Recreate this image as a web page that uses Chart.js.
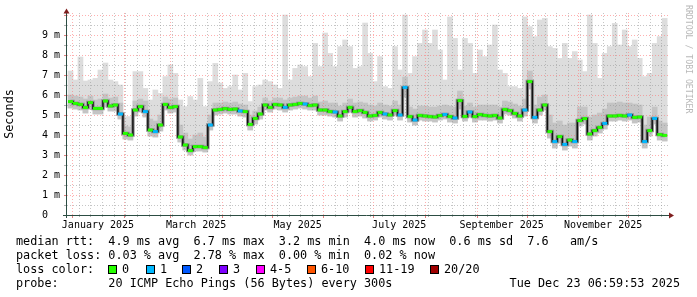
<!DOCTYPE html>
<html>
<head>
<meta charset="utf-8">
<script src="https://cdn.jsdelivr.net/npm/chart.js@4.4.1/dist/chart.umd.min.js"></script>
<style>
html, body { margin: 0; padding: 0; background: #fff; }
#wrap { position: relative; width: 697px; height: 297px; overflow: hidden; background: #fff; }
canvas { position: absolute; left: 0; top: 0; }
.ln { position: absolute; left: 16px; font-family: "DejaVu Sans Mono", monospace; font-size: 11.8px; line-height: 14px; white-space: pre; color: #000; }
.box { position: absolute; top: 265px; width: 7px; height: 7px; border: 1px solid #000; }
</style>
</head>
<body>
<div id="wrap">
  <canvas id="c" width="697" height="297"></canvas>
  <div class="ln" style="top:234px">median rtt:  4.9 ms avg  6.7 ms max  3.2 ms min  4.0 ms now  0.6 ms sd  7.6   am/s</div>
  <div class="ln" style="top:248px">packet loss: 0.03 % avg  2.78 % max  0.00 % min  0.02 % now</div>
  <div class="ln" style="top:262px" id="lossLine">loss color:</div>
  <div class="ln" style="top:276px">probe:       20 ICMP Echo Pings (56 Bytes) every 300s</div>
  <div class="ln" style="top:276px;left:auto;right:17px">Tue Dec 23 06:59:53 2025</div>
</div>
<script>
// one sample every 3 days, x = days since 1 Jan 2025
const firstDay = -1, stepDays = 3;

// median rtt (ms)
const med = [
  5.67, 5.58, 5.53, 5.37, 5.62, 5.33, 5.33, 5.70, 5.45, 5.50,
  5.05, 4.08, 4.00, 5.25, 5.42, 5.17, 4.25, 4.17, 4.50, 5.53,
  5.38, 5.42, 3.90, 3.50, 3.22, 3.42, 3.42, 3.37, 4.50, 5.25,
  5.28, 5.32, 5.28, 5.30, 5.20, 5.17, 4.53, 4.83, 5.05, 5.50,
  5.38, 5.53, 5.50, 5.38, 5.50, 5.53, 5.58, 5.55, 5.47, 5.50,
  5.25, 5.25, 5.17, 5.15, 4.95, 5.17, 5.38, 5.17, 5.22, 5.13,
  4.95, 4.98, 5.13, 5.05, 5.00, 5.22, 5.00, 6.38, 4.92, 4.75,
  4.98, 4.95, 4.92, 4.90, 4.97, 5.03, 4.92, 4.85, 5.72, 4.93,
  5.15, 4.92, 5.02, 4.98, 4.95, 4.98, 4.85, 5.28, 5.22, 5.08,
  4.95, 5.25, 6.67, 4.88, 5.25, 5.50, 4.17, 3.67, 3.92, 3.53,
  3.75, 3.67, 4.72, 4.82, 4.05, 4.22, 4.38, 4.58, 4.95, 4.95,
  4.98, 4.95, 5.00, 4.88, 4.90, 3.67, 4.22, 4.83, 4.02, 3.98
];
// slowest ping (top of the light smoke)
const maxRtt = [
  7.20, 6.75, 7.90, 6.70, 6.75, 6.83, 7.25, 7.60, 6.75, 6.67,
  6.50, 4.92, 4.92, 7.17, 7.17, 6.33, 5.75, 6.25, 6.08, 6.92,
  7.50, 7.08, 5.75, 5.42, 5.92, 5.75, 6.83, 5.42, 6.67, 7.58,
  6.60, 6.33, 6.42, 7.00, 6.25, 7.08, 5.67, 6.42, 6.50, 6.75,
  6.67, 6.50, 6.33, 10.0, 6.75, 7.33, 7.50, 7.42, 6.92, 8.58,
  7.42, 9.10, 8.08, 7.42, 8.42, 8.75, 8.42, 7.33, 7.42, 9.60,
  8.08, 6.67, 7.92, 6.42, 6.33, 8.42, 7.25, 10.0, 7.08, 7.92,
  8.58, 9.25, 8.58, 9.25, 8.25, 6.75, 9.90, 8.83, 7.25, 8.83,
  8.58, 7.08, 8.25, 7.92, 8.50, 9.50, 7.25, 7.08, 6.42, 6.42,
  6.33, 9.90, 9.42, 8.92, 9.75, 9.83, 8.42, 8.33, 7.83, 8.58,
  7.83, 8.17, 7.75, 7.17, 10.0, 8.58, 6.83, 8.08, 8.42, 9.58,
  8.50, 9.25, 8.42, 8.75, 7.83, 6.92, 7.08, 8.58, 8.92, 9.83
];
// upper edge of the denser smoke
const hiRtt = [
  6.00, 5.95, 5.90, 5.80, 5.95, 5.75, 5.80, 6.05, 5.85, 5.90,
  5.60, 4.45, 4.40, 5.70, 5.80, 5.70, 4.80, 4.70, 5.00, 5.90,
  5.80, 5.85, 4.50, 4.10, 3.80, 4.00, 4.10, 3.90, 5.00, 5.60,
  5.60, 5.65, 5.60, 5.65, 5.55, 5.50, 5.00, 5.20, 5.40, 5.85,
  5.70, 5.85, 5.85, 5.75, 5.85, 5.90, 5.95, 5.95, 5.85, 5.95,
  5.65, 5.70, 5.60, 5.60, 5.45, 5.60, 5.80, 5.60, 5.65, 5.60,
  5.50, 5.45, 5.60, 5.50, 5.45, 5.70, 5.50, 6.90, 5.40, 5.30,
  5.45, 5.45, 5.40, 5.40, 5.45, 5.50, 5.45, 5.40, 6.20, 5.45,
  5.60, 5.40, 5.50, 5.50, 5.50, 5.50, 5.40, 5.70, 5.65, 5.55,
  5.45, 5.80, 7.20, 5.50, 5.90, 6.00, 5.00, 4.60, 4.70, 4.50,
  4.60, 4.60, 5.40, 5.40, 4.90, 5.00, 5.10, 5.30, 5.60, 5.60,
  5.65, 5.60, 5.60, 5.55, 5.50, 4.50, 4.90, 5.40, 4.70, 4.60
];
// fastest ping (bottom of the smoke)
const minRtt = [
  5.35, 5.30, 5.25, 5.10, 5.30, 5.05, 5.05, 5.40, 5.20, 5.20,
  4.80, 3.80, 3.75, 4.95, 5.15, 4.90, 3.95, 3.90, 4.20, 5.25,
  5.10, 5.15, 3.65, 3.25, 3.00, 3.20, 3.20, 3.15, 4.25, 5.00,
  5.05, 5.10, 5.05, 5.05, 4.95, 4.90, 4.25, 4.55, 4.80, 5.25,
  5.15, 5.30, 5.25, 5.15, 5.25, 5.30, 5.35, 5.30, 5.25, 5.25,
  5.00, 5.00, 4.95, 4.90, 4.70, 4.90, 5.15, 4.90, 4.95, 4.85,
  4.70, 4.75, 4.90, 4.80, 4.75, 5.00, 4.75, 5.90, 4.65, 4.50,
  4.75, 4.70, 4.70, 4.65, 4.75, 4.80, 4.65, 4.60, 5.30, 4.70,
  4.90, 4.65, 4.75, 4.75, 4.70, 4.75, 4.60, 5.05, 5.00, 4.85,
  4.70, 4.95, 6.30, 4.60, 5.00, 5.25, 3.85, 3.35, 3.60, 3.25,
  3.45, 3.35, 4.45, 4.55, 3.75, 3.95, 4.10, 4.30, 4.70, 4.70,
  4.75, 4.70, 4.75, 4.60, 4.65, 3.35, 3.95, 4.55, 3.75, 3.70
];
// samples with 1/20 packets lost
const lossOnePoints = [10, 15, 17, 28, 34, 43, 47, 53, 63, 66, 67, 69, 75, 77, 80, 91, 93, 97, 99, 101, 107, 112, 115, 117];

const monthStarts = [0, 31, 59, 90, 120, 151, 181, 212, 243, 273, 304, 334, 365];
const firstSunday = 4;
const xLabels = ['January 2025', 'March 2025', 'May 2025', 'July 2025', 'September 2025', 'November 2025'];
const xLabelMonths = [0, 2, 4, 6, 8, 10];
const yLabelMax = 9;

const lossNames = ['0', '1', '2', '3', '4-5', '6-10', '11-19', '20/20'];
const lossColors = ['#26ff00', '#00b8ff', '#0059ff', '#7e00ff', '#ff00ff', '#ff5500', '#ff0000', '#a00000'];
const lossBoxX = [108, 146, 182, 219, 256, 307, 365, 430];

// legend boxes
const wrap = document.getElementById('wrap');
lossNames.forEach((n, i) => {
  const b = document.createElement('div');
  b.className = 'box';
  b.style.left = lossBoxX[i] + 'px';
  b.style.background = lossColors[i];
  wrap.appendChild(b);
  const t = document.createElement('div');
  t.className = 'ln';
  t.style.top = '262px';
  t.style.left = (lossBoxX[i] + 14) + 'px';
  t.textContent = n;
  wrap.appendChild(t);
});

const days = med.map((_, i) => firstDay + stepDays * i);
const xLabelDays = xLabelMonths.map(m => (monthStarts[m] + monthStarts[m + 1]) / 2);
const pts = arr => arr.map((v, i) => ({ x: days[i], y: v }));
const span = (a, b) => a.map((v, i) => ({ x: days[i], y: [v, b[i]] }));
const markColors = med.map((_, i) => lossOnePoints.includes(i) ? lossColors[1] : lossColors[0]);

const MONO = '"DejaVu Sans Mono", monospace';
const GRID_MINOR = 'rgba(150,150,150,0.55)';
const GRID_MAJOR = 'rgba(255,110,110,0.55)';

const smokeGrid = {
  id: 'smokeGrid',
  afterDatasetDraw(chart, args) {
    if (args.index !== 1) return;
    const { ctx, chartArea: a, scales: { x, y } } = chart;
    ctx.save();
    ctx.lineWidth = 1;
    ctx.setLineDash([1, 2]);
    y.ticks.forEach(t => {
      if (t.value <= 0) return;
      const py = Math.round(y.getPixelForValue(t.value)) + 0.5;
      ctx.strokeStyle = Number.isInteger(t.value) ? GRID_MAJOR : GRID_MINOR;
      ctx.beginPath(); ctx.moveTo(a.left, py); ctx.lineTo(a.right, py); ctx.stroke();
    });
    for (let d = firstSunday; d < x.max; d += 7) {
      if (monthStarts.includes(d)) continue;
      const px = Math.round(x.getPixelForValue(d)) + 0.5;
      ctx.strokeStyle = GRID_MINOR;
      ctx.beginPath(); ctx.moveTo(px, a.bottom); ctx.lineTo(px, a.top); ctx.stroke();
    }
    monthStarts.forEach(d => {
      if (d < x.min || d > x.max) return;
      const px = Math.round(x.getPixelForValue(d)) + 0.5;
      ctx.strokeStyle = GRID_MAJOR;
      ctx.beginPath(); ctx.moveTo(px, a.bottom); ctx.lineTo(px, a.top); ctx.stroke();
    });
    ctx.restore();
  },
  afterDraw(chart) {
    const { ctx, chartArea: a, scales: { x, y } } = chart;
    ctx.save();
    ctx.lineWidth = 1;
    // small ticks outside the axes
    y.ticks.forEach(t => {
      const py = Math.round(y.getPixelForValue(t.value)) + 0.5;
      ctx.strokeStyle = Number.isInteger(t.value) ? '#e08080' : '#b0b0b0';
      ctx.beginPath(); ctx.moveTo(a.left - 3, py); ctx.lineTo(a.left, py); ctx.stroke();
    });
    for (let d = firstSunday; d < x.max; d += 7) {
      const px = Math.round(x.getPixelForValue(d)) + 0.5;
      ctx.strokeStyle = '#b0b0b0';
      ctx.beginPath(); ctx.moveTo(px, a.bottom); ctx.lineTo(px, a.bottom + 2); ctx.stroke();
    }
    monthStarts.forEach(d => {
      if (d < x.min || d > x.max) return;
      const px = Math.round(x.getPixelForValue(d)) + 0.5;
      ctx.strokeStyle = '#e08080';
      ctx.beginPath(); ctx.moveTo(px, a.bottom); ctx.lineTo(px, a.bottom + 3); ctx.stroke();
    });
    // axes
    ctx.strokeStyle = '#2c4d43';
    ctx.beginPath(); ctx.moveTo(a.left - 4, a.bottom + 0.5); ctx.lineTo(a.right + 2, a.bottom + 0.5); ctx.stroke();
    ctx.beginPath(); ctx.moveTo(a.left - 0.5, a.bottom + 3); ctx.lineTo(a.left - 0.5, a.top - 2); ctx.stroke();
    // arrows
    ctx.fillStyle = '#7f1f1f';
    ctx.beginPath();
    ctx.moveTo(a.left - 3.5, a.top + 0.5); ctx.lineTo(a.left + 2.5, a.top + 0.5); ctx.lineTo(a.left - 0.5, a.top - 4.5);
    ctx.closePath(); ctx.fill();
    ctx.beginPath();
    ctx.moveTo(a.right + 1, a.bottom - 2.5); ctx.lineTo(a.right + 1, a.bottom + 3.5); ctx.lineTo(a.right + 6, a.bottom + 0.5);
    ctx.closePath(); ctx.fill();
    // watermark
    ctx.translate(688.5, 5);
    ctx.rotate(Math.PI / 2);
    ctx.fillStyle = '#b8b8b8';
    ctx.font = '8.2px ' + MONO;
    ctx.textBaseline = 'middle';
    ctx.textAlign = 'left';
    ctx.fillText('RRDTOOL / TOBI OETIKER', 0, 0);
    ctx.restore();
  }
};

const barOpts = { type: 'bar', grouped: false, barPercentage: 1, categoryPercentage: 1, borderWidth: 0 };

new Chart(document.getElementById('c'), {
  type: 'bar',
  data: {
    datasets: [
      { ...barOpts, data: span(minRtt, maxRtt), backgroundColor: '#dddddd', order: 5 },
      { ...barOpts, data: span(minRtt, hiRtt), backgroundColor: '#c4c4c4', order: 4 },
      { type: 'line', data: pts(med), borderColor: '#909090', borderWidth: 3.5, stepped: 'middle', pointRadius: 0, order: 3 },
      { type: 'line', data: pts(med), borderColor: '#111111', borderWidth: 1.5, stepped: 'middle', pointRadius: 0, order: 2 },
      { type: 'line', data: pts(med), showLine: false, pointStyle: 'line', pointRadius: 2.5,
        pointBorderWidth: 3, pointBorderColor: markColors, pointBackgroundColor: markColors, order: 1 }
    ]
  },
  options: {
    responsive: false,
    animation: false,
    devicePixelRatio: 1,
    layout: { padding: { top: 13, right: 29, bottom: 62, left: 0 } },
    plugins: { legend: { display: false }, tooltip: { enabled: false } },
    scales: {
      x: {
        type: 'linear', min: -3.1, max: 358, offset: false,
        grid: { display: false, drawTicks: false }, border: { display: false },
        afterBuildTicks: s => { s.ticks = xLabelDays.map(v => ({ value: v })); },
        afterFit: s => { s.height = 20; },
        ticks: { autoSkip: false, maxRotation: 0, padding: 4, color: '#000',
          font: { family: MONO, size: 10 }, callback: (v, i) => xLabels[i] }
      },
      y: {
        min: 0, max: 10.1,
        grid: { display: false, drawTicks: false }, border: { display: false },
        afterFit: s => { s.width = 67; },
        ticks: { stepSize: 0.5, includeBounds: false, autoSkip: false, padding: 7, color: '#000',
          font: { family: MONO, size: 10 },
          callback: v => (!Number.isInteger(v) || v > yLabelMax) ? '' : (v === 0 ? '0  ' : v + ' m') },
        title: { display: true, text: 'Seconds', color: '#000', font: { family: MONO, size: 11.8 }, padding: { top: 3, bottom: 0 } }
      }
    }
  },
  plugins: [smokeGrid]
});
</script>
</body>
</html>
